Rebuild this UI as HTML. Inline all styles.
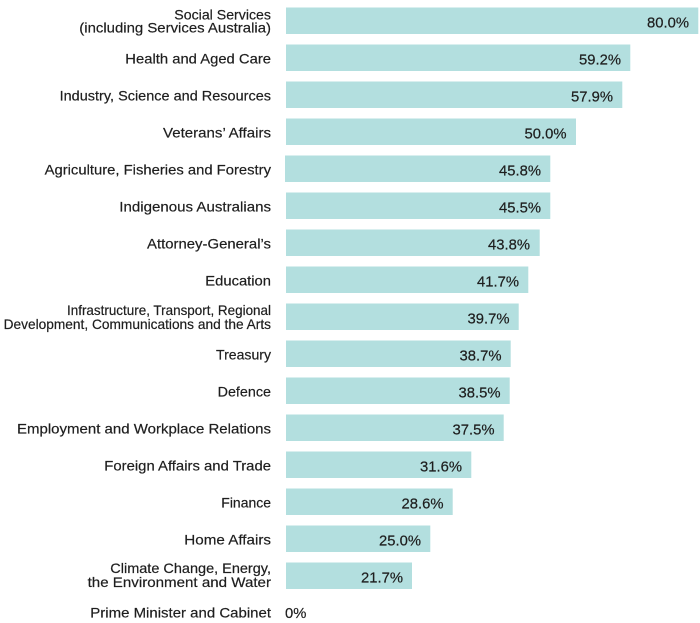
<!DOCTYPE html>
<html>
<head>
<meta charset="utf-8">
<style>
  html, body { margin: 0; padding: 0; background: #ffffff; }
  svg { display: block; }
  .lbl { font-family: "Liberation Sans", sans-serif; font-size: 14px; fill: #1e1e1e; stroke: #1e1e1e; stroke-width: 0.2px; }
  .val { font-family: "Liberation Sans", sans-serif; font-size: 14.8px; fill: #1e1e1e; stroke: #1e1e1e; stroke-width: 0.2px; }
  .bar { fill: #b3dfdf; }
</style>
</head>
<body>
<svg width="700" height="623" viewBox="0 0 700 623" xmlns="http://www.w3.org/2000/svg">
  <rect class="bar" x="286" y="7.5" width="412.3" height="26.5"/>
  <rect class="bar" x="286" y="44.5" width="344.3" height="26.5"/>
  <rect class="bar" x="286" y="81.5" width="336.3" height="26.5"/>
  <rect class="bar" x="286" y="118.5" width="290" height="26.5"/>
  <rect class="bar" x="285" y="155.5" width="265.3" height="26.5"/>
  <rect class="bar" x="286" y="192.5" width="264.3" height="26.5"/>
  <rect class="bar" x="286" y="229.5" width="253.7" height="26.5"/>
  <rect class="bar" x="286" y="266.5" width="242.3" height="26.5"/>
  <rect class="bar" x="286" y="303.5" width="232.7" height="26.5"/>
  <rect class="bar" x="286" y="340.5" width="224.7" height="26.5"/>
  <rect class="bar" x="286" y="377.5" width="223.7" height="26.5"/>
  <rect class="bar" x="286" y="414.5" width="217.7" height="26.5"/>
  <rect class="bar" x="286" y="451.5" width="185.3" height="26.5"/>
  <rect class="bar" x="286" y="488.5" width="166.7" height="26.5"/>
  <rect class="bar" x="286" y="525.5" width="144.3" height="26.5"/>
  <rect class="bar" x="286" y="562.5" width="126" height="26.5"/>

  <g class="lbl" text-anchor="end">
    <text x="271" y="19.5" textLength="96.7" lengthAdjust="spacingAndGlyphs">Social Services</text>
    <text x="271" y="32.5" textLength="191.7" lengthAdjust="spacingAndGlyphs">(including Services Australia)</text>
    <text x="271" y="63.7" textLength="145.7" lengthAdjust="spacingAndGlyphs">Health and Aged Care</text>
    <text x="271" y="100.7" textLength="211.4" lengthAdjust="spacingAndGlyphs">Industry, Science and Resources</text>
    <text x="271" y="137.7" textLength="108" lengthAdjust="spacingAndGlyphs">Veterans’ Affairs</text>
    <text x="271" y="174.7" textLength="226.4" lengthAdjust="spacingAndGlyphs">Agriculture, Fisheries and Forestry</text>
    <text x="271" y="211.7" textLength="151.7" lengthAdjust="spacingAndGlyphs">Indigenous Australians</text>
    <text x="271" y="248.7" textLength="124" lengthAdjust="spacingAndGlyphs">Attorney-General’s</text>
    <text x="271" y="285.7" textLength="65.7" lengthAdjust="spacingAndGlyphs">Education</text>
    <text x="271" y="315" textLength="204" lengthAdjust="spacingAndGlyphs">Infrastructure, Transport, Regional</text>
    <text x="271" y="329" textLength="267.4" lengthAdjust="spacingAndGlyphs">Development, Communications and the Arts</text>
    <text x="271" y="359.7" textLength="55" lengthAdjust="spacingAndGlyphs">Treasury</text>
    <text x="271" y="396.7" textLength="53.4" lengthAdjust="spacingAndGlyphs">Defence</text>
    <text x="271" y="433.7" textLength="254" lengthAdjust="spacingAndGlyphs">Employment and Workplace Relations</text>
    <text x="271" y="470.7" textLength="166.7" lengthAdjust="spacingAndGlyphs">Foreign Affairs and Trade</text>
    <text x="271" y="507.7" textLength="49.7" lengthAdjust="spacingAndGlyphs">Finance</text>
    <text x="271" y="544.7" textLength="86.7" lengthAdjust="spacingAndGlyphs">Home Affairs</text>
    <text x="271" y="573" textLength="160.7" lengthAdjust="spacingAndGlyphs">Climate Change, Energy,</text>
    <text x="271" y="587" textLength="183.4" lengthAdjust="spacingAndGlyphs">the Environment and Water</text>
    <text x="271" y="617.5" textLength="180.7" lengthAdjust="spacingAndGlyphs">Prime Minister and Cabinet</text>
  </g>

  <g class="val" text-anchor="end">
    <text x="689" y="27.5">80.0%</text>
    <text x="621" y="64.5">59.2%</text>
    <text x="613" y="101.5">57.9%</text>
    <text x="566.5" y="138.5">50.0%</text>
    <text x="541" y="175.5">45.8%</text>
    <text x="541" y="212.5">45.5%</text>
    <text x="530" y="249.5">43.8%</text>
    <text x="519" y="286.5">41.7%</text>
    <text x="509.5" y="323.5">39.7%</text>
    <text x="501.5" y="360.5">38.7%</text>
    <text x="500.5" y="397.5">38.5%</text>
    <text x="494.5" y="434.5">37.5%</text>
    <text x="462" y="471.5">31.6%</text>
    <text x="443.5" y="508.5">28.6%</text>
    <text x="421" y="545.5">25.0%</text>
    <text x="403" y="582.5">21.7%</text>
  </g>
  <text class="val" x="285" y="618">0%</text>
</svg>
</body>
</html>
